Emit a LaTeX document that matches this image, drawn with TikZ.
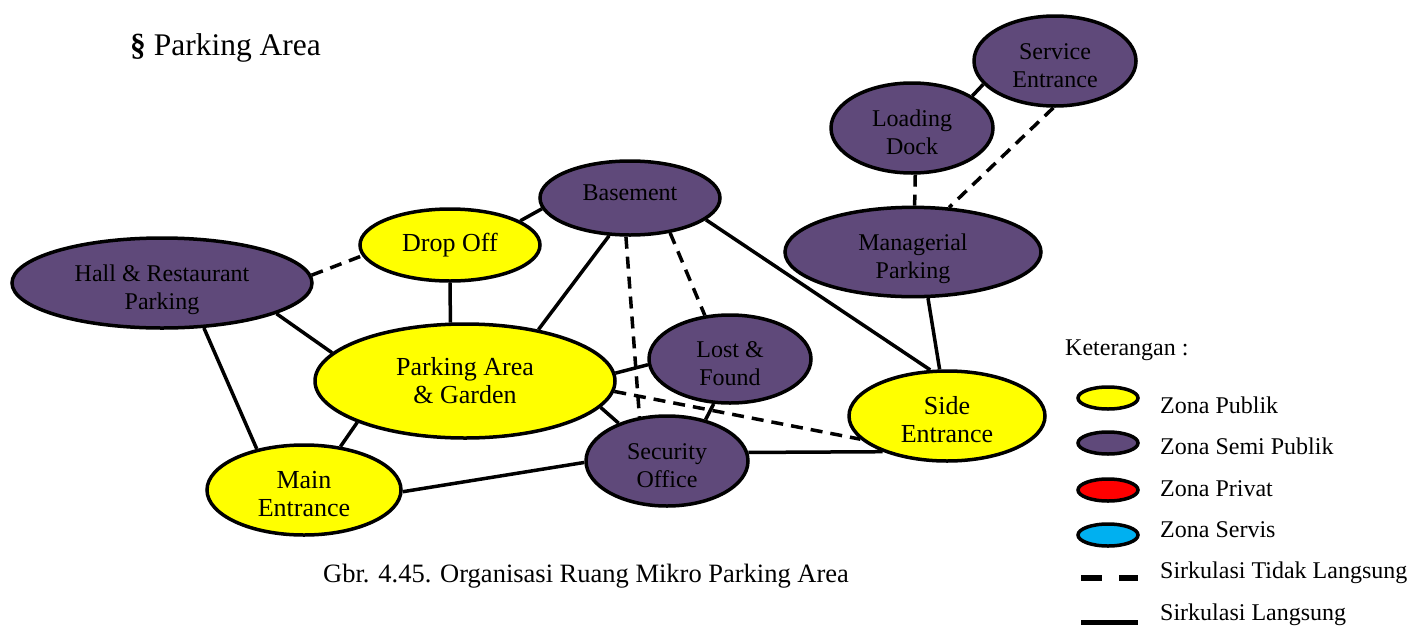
\documentclass[tikz,border=0pt]{standalone}
\usepackage{fontspec}
\setmainfont{Liberation Serif}
\usetikzlibrary{shapes.geometric}
\definecolor{zpub}{RGB}{255,255,0}
\definecolor{zsemi}{RGB}{95,73,122}
\definecolor{zpriv}{RGB}{255,0,0}
\definecolor{zserv}{RGB}{0,176,240}
\tikzset{
  zone/.style={ellipse, draw=black, line width=3.5pt, inner sep=0pt, align=center,
    font=\fontsize{24}{28}\selectfont},
  pub/.style={zone, fill=zpub, font=\fontsize{26}{28}\selectfont},
  semi/.style={zone, fill=zsemi},
  lowtext/.style={text height=54pt},
  link/.style={line width=3.5pt},
  indirect/.style={line width=3.5pt, dash pattern=on 12pt off 8pt},
  legzone/.style={ellipse, draw=black, line width=3.5pt, inner sep=0pt,
    minimum width=60pt, minimum height=22pt},
  legtext/.style={anchor=base west, inner sep=0pt, font=\fontsize{24}{28}\selectfont},
}
\begin{document}
\begin{tikzpicture}[x=1pt,y=-1pt]
\useasboundingbox (0,0) rectangle (1410,627);
\fill[white] (0,0) rectangle (1410,627);

% heading and caption
\node[anchor=base west, inner sep=0pt, font=\fontsize{31.5}{34}\selectfont] (title) at (130,55) {\textbf{\S}\ Parking Area};
\node[anchor=base west, inner sep=0pt, font=\fontsize{26.5}{30}\selectfont] (caption) at (323,582) {Gbr. 4.45. Organisasi Ruang Mikro Parking Area};

% zones
\node[semi, text height=58pt, minimum width=300pt, minimum height=90pt] (H) at (162,283) {Hall \& Restaurant\\Parking};
\node[pub, minimum width=180pt, minimum height=72pt] (D) at (450,245) {Drop Off};
\node[pub, minimum width=300pt, minimum height=114pt] (P) at (465,381) {Parking Area\\\& Garden};
\node[semi, text depth=10pt, minimum width=180pt, minimum height=74pt] (B) at (630,198) {Basement};
\node[semi, lowtext, minimum width=162pt, minimum height=88pt] (L) at (730,359) {Lost \&\\Found};
\node[semi, lowtext, minimum width=162pt, minimum height=90pt] (S) at (667,461) {Security\\Office};
\node[pub, lowtext, minimum width=196pt, minimum height=90pt] (SE) at (947,416) {Side\\Entrance};
\node[semi, text height=58pt, minimum width=256pt, minimum height=88pt] (M) at (913,252) {Managerial\\Parking};
\node[semi, lowtext, minimum width=162pt, minimum height=90pt] (LD) at (912,128) {Loading\\Dock};
\node[semi, lowtext, minimum width=162pt, minimum height=90pt] (SV) at (1055,61) {Service\\Entrance};
\node[pub, lowtext, minimum width=194pt, minimum height=90pt] (ME) at (304,490) {Main\\Entrance};

% connectors
\draw[indirect] (H.3) -- (D.187);
\draw[link] (H.345) -- (P.168);
\draw[link] (H.313) -- (ME.139);
\draw[link] (D.19) -- (B.187);
\draw[link] (D.270) -- (P.104);
\draw[link] (B.241) -- (P.35);
\draw[indirect] (B.264) -- (S.122);
\draw[indirect] (B.319) -- (L.120);
\draw[link] (B.344) -- (SE.110);
\draw[link] (P.3) -- (L.184);
\draw[indirect] (P.356) -- (SE.195);
\draw[link] (P.349) -- (S.142);
\draw[link] (L.250) -- (S.47);
\draw[link] (S.6) -- (SE.209);
\draw[link] (ME.359) -- (S.181);
\draw[link] (ME.50) -- (P.201);
\draw[link] (M.288) -- (SE.99);
\draw[indirect] (LD.274) -- (M.88);
\draw[link] (LD.28) -- (SV.198);
\draw[indirect] (SV.268) -- (M.51);

% legend
\node[legtext] (ket) at (1065,355) {Keterangan :};
\node[legzone, fill=zpub] (lpub) at (1108,398) {};
\node[legzone, fill=zsemi] (lsemi) at (1108,443) {};
\node[legzone, fill=zpriv] (lpriv) at (1108,490) {};
\node[legzone, fill=zserv] (lserv) at (1108,535) {};
\node[legtext] (tpub) at (1160,413) {Zona Publik};
\node[legtext] (tsemi) at (1160,454) {Zona Semi Publik};
\node[legtext] (tpriv) at (1160,496) {Zona Privat};
\node[legtext] (tserv) at (1160,537) {Zona Servis};
\node[legtext] (tind) at (1160,578) {Sirkulasi Tidak Langsung};
\node[legtext] (tdir) at (1160,620) {Sirkulasi Langsung};
\coordinate (ld1) at (1081,578);
\coordinate (ld2) at (1138,578);
\coordinate (ls1) at (1081,622);
\coordinate (ls2) at (1138,622);
\draw[line width=6pt, dash pattern=on 21pt off 17pt] (ld1) -- (ld2);
\draw[line width=5pt] (ls1) -- (ls2);
\end{tikzpicture}
\end{document}
